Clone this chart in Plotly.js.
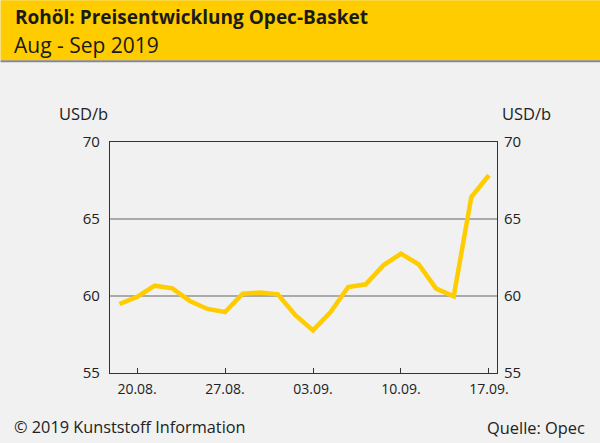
<!DOCTYPE html>
<html><head><meta charset="utf-8">
<script src="https://cdn.plot.ly/plotly-3.0.1.min.js"></script>
<style>html,body{margin:0;padding:0;background:#f0f1f0}#chart{width:600px;height:443px}</style>
</head><body><div id="chart"></div>
<script>
// Data
const dates = ["19.08.","20.08.","21.08.","22.08.","23.08.","26.08.","27.08.","28.08.","29.08.","30.08.",
  "02.09.","03.09.","04.09.","05.09.","06.09.","09.09.","10.09.","11.09.","12.09.","13.09.","16.09.","17.09."];
const prices = [59.48,59.94,60.67,60.50,59.68,59.16,58.96,60.15,60.22,60.11,
  58.75,57.77,58.96,60.58,60.76,61.99,62.75,62.06,60.48,59.98,66.43,67.84];
const tickDates = ["20.08.","27.08.","03.09.","10.09.","17.09."];
const yTicks = [55,60,65,70];

const W=600,H=443, L=109.5, R=103.3, T=141.7, B=70.3;
const pw=W-L-R, ph=H-T-B;
const px=x=>(x-L)/pw, py=y=>1-(y-T)/ph;
const FONT="Open Sans, sans-serif", TXT="#222";
const idx = dates.map((d,i)=>i);
const tickIdx = tickDates.map(d=>dates.indexOf(d));

const traces=[
 {x:idx,y:prices,type:'scatter',mode:'lines',line:{color:'#ffcc00',width:4.5},hoverinfo:'skip',showlegend:false},
 {x:idx,y:prices,type:'scatter',mode:'lines',yaxis:'y2',line:{color:'rgba(0,0,0,0)',width:0},hoverinfo:'skip',showlegend:false}
];
const layout={
 width:W,height:H,margin:{l:L,r:R,t:T,b:B,pad:0},
 paper_bgcolor:'#f0f1f0',plot_bgcolor:'#f0f1f0',
 font:{family:FONT,color:TXT},
 title:{text:"<b>Rohöl: Preisentwicklung Opec-Basket</b>",x:15/W,xanchor:'left',xref:'container',y:1-17/H,yanchor:'middle',yref:'container',font:{size:19,family:FONT,color:'#1a1a1a'}},
 xaxis:{range:[-0.54,21.46],tickvals:tickIdx,ticktext:tickDates,ticks:'inside',ticklen:5,tickcolor:'#333',tickwidth:1,
   showgrid:false,zeroline:false,showline:true,linecolor:'#333',linewidth:1.2,mirror:true,tickfont:{size:14,color:TXT},ticklabelstandoff:3,fixedrange:true},
 yaxis:{range:[55,70],tickvals:yTicks,ticks:'',showgrid:true,gridcolor:'#aaaaaa',gridwidth:1.5,zeroline:false,
   showline:true,linecolor:'#333',linewidth:1.2,mirror:true,tickfont:{size:15,color:TXT},ticklabelstandoff:6,fixedrange:true},
 yaxis2:{range:[55,70],tickvals:yTicks,overlaying:'y',side:'right',ticks:'',showgrid:false,zeroline:false,showline:false,
   tickfont:{size:15,color:TXT},ticklabelstandoff:6,fixedrange:true},
 shapes:[
  {type:'rect',xref:'paper',yref:'paper',x0:px(0),x1:px(W),y0:py(0),y1:py(60),fillcolor:'#ffcc00',line:{width:0},layer:'below'},
  {type:'rect',xref:'paper',yref:'paper',x0:px(0),x1:px(W),y0:py(60),y1:py(62),fillcolor:'#888888',line:{width:0},layer:'below'}
 ],
 annotations:[
  {text:"Aug - Sep 2019",xref:'paper',yref:'paper',x:px(11),y:py(44.5),xanchor:'left',yanchor:'middle',showarrow:false,font:{size:21,color:'#1a1a1a'}},
  {text:"USD/b",xref:'paper',yref:'paper',x:px(110),y:py(113),xanchor:'right',yanchor:'middle',showarrow:false,font:{size:16.5,color:TXT}},
  {text:"USD/b",xref:'paper',yref:'paper',x:px(499.5),y:py(113),xanchor:'left',yanchor:'middle',showarrow:false,font:{size:16.5,color:TXT}},
  {text:"© 2019 Kunststoff Information",xref:'paper',yref:'paper',x:px(11.5),y:py(427),xanchor:'left',yanchor:'middle',showarrow:false,font:{size:16.3,color:TXT}},
  {text:"Quelle: Opec",xref:'paper',yref:'paper',x:px(586.5),y:py(427),xanchor:'right',yanchor:'middle',showarrow:false,font:{size:16.4,color:TXT}}
 ]
};
Plotly.newPlot('chart',traces,layout,{staticPlot:true,displayModeBar:false});
</script></body></html>
